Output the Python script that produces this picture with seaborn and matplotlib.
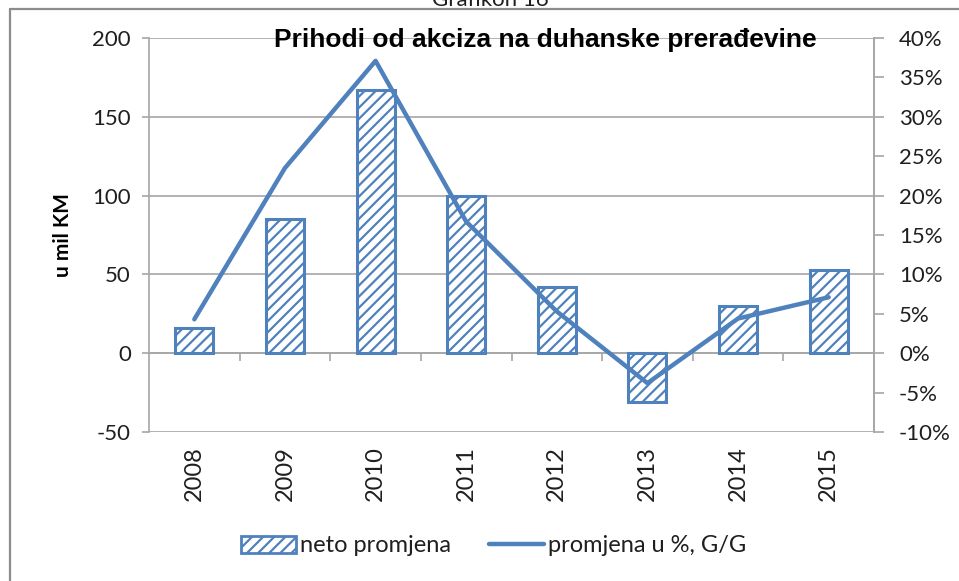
import matplotlib
matplotlib.use("Agg")
import matplotlib.pyplot as plt
import matplotlib.ticker as mticker
from matplotlib.lines import Line2D
from matplotlib.patches import Patch
import seaborn as sns
import pandas as pd
import numpy as np

years = ["2008", "2009", "2010", "2011", "2012", "2013", "2014", "2015"]
neto_promjena = [16, 85, 167, 100, 42, -31, 30, 53]
promjena_pct = [4.3, 23.5, 37.1, 16.7, 5.3, -3.8, 4.4, 7.1]
left_ticks = [-50, 0, 50, 100, 150, 200]
right_ticks = [-10, -5, 0, 5, 10, 15, 20, 25, 30, 35, 40]

BLUE = "#4F81BD"
GRID = "#A6A6A6"
TXT = "#1F1F1F"

sns.set_theme(style="white")
plt.rcParams["font.family"] = ["Lato", "DejaVu Sans"]
plt.rcParams["axes.unicode_minus"] = False
plt.rcParams["hatch.color"] = BLUE
plt.rcParams["hatch.linewidth"] = 1.6

df = pd.DataFrame({"year": years, "neto": neto_promjena, "pct": promjena_pct})

fig = plt.figure(figsize=(9.59, 5.81), dpi=100)
ax = fig.add_axes([149 / 959, 1 - 432 / 581, (874 - 149) / 959, (432 - 38) / 581])

sns.barplot(data=df, x="year", y="neto", ax=ax, color="white", width=0.42,
            edgecolor=BLUE, linewidth=2.2, hatch="///", saturation=1)
for p in ax.patches:
    p.set_hatch("///")
    p.set_edgecolor(BLUE)
    p.set_facecolor("white")
    p.set_zorder(3)

ax.set_ylim(-50, 200)
ax.set_xlim(-0.5, len(years) - 0.5)
ax.set_yticks(left_ticks)
ax.yaxis.grid(True, color=GRID, linewidth=1.2)
ax.set_axisbelow(True)
ax.set_xlabel("")
ax.set_ylabel("u mil KM", fontsize=15, fontweight="bold", color="black", labelpad=14)

ax.spines["top"].set_visible(False)
ax.spines["left"].set_color(GRID)
ax.spines["left"].set_linewidth(1.2)
ax.spines["right"].set_color(GRID)
ax.spines["right"].set_linewidth(1.2)
ax.spines["bottom"].set_position(("data", 0))
ax.spines["bottom"].set_color(GRID)
ax.spines["bottom"].set_linewidth(1.2)

ax.tick_params(axis="y", which="major", left=True, length=5, width=1.2, color=GRID,
               labelsize=16, labelcolor=TXT, pad=8)
ax.tick_params(axis="x", which="major", bottom=True, length=0, labelsize=17,
               labelcolor=TXT, pad=67, labelrotation=90)
ax.set_xticks(np.arange(0.5, len(years) - 1, 1.0), minor=True)
ax.tick_params(axis="x", which="minor", bottom=True, length=6, width=1.2,
               color=GRID, direction="out")

ax2 = ax.twinx()
sns.lineplot(data=df, x="year", y="pct", ax=ax2, color=BLUE, linewidth=3.2,
             sort=False, solid_capstyle="round", solid_joinstyle="round")
ax2.set_ylim(-10, 40)
ax2.set_yticks(right_ticks)
ax2.yaxis.set_major_formatter(mticker.FuncFormatter(lambda v, p: f"{int(v)}%"))
ax2.set_ylabel("")
ax2.set_xlabel("")
for s in ["top", "left", "bottom"]:
    ax2.spines[s].set_visible(False)
ax2.spines["right"].set_color(GRID)
ax2.spines["right"].set_linewidth(1.2)
ax2.tick_params(axis="y", right=True, length=7, width=1.2, color=GRID,
                labelsize=16, labelcolor=TXT, pad=11)
ax2.set_xlim(-0.5, len(years) - 0.5)
ax2.grid(False)

fig.text(545 / 959, 1 - 40 / 581, "Prihodi od akciza na duhanske prerađevine",
         family=["Liberation Sans", "DejaVu Sans"], fontweight="bold",
         fontsize=19, ha="center", va="center", color="black")

fig.text(490 / 959, 1 - 6 / 581, "Grafikon 16", fontsize=16, ha="center",
         va="baseline", color=TXT)

frame_color = "#8C8C8C"
fig.add_artist(Line2D([10 / 959, 10 / 959], [0, 1 - 9 / 581], transform=fig.transFigure,
                      color=frame_color, linewidth=1.6))
fig.add_artist(Line2D([10 / 959, 1], [1 - 9 / 581, 1 - 9 / 581], transform=fig.transFigure,
                      color=frame_color, linewidth=1.6))

handles = [Patch(facecolor="white", edgecolor=BLUE, hatch="///", linewidth=2),
           Line2D([0], [0], color=BLUE, linewidth=3.2)]
fig.legend(handles, ["neto promjena", "promjena u %, G/G"], loc="center",
           bbox_to_anchor=(494 / 959, 1 - 546 / 581), ncol=2, frameon=False,
           fontsize=17, handlelength=2.3, handletextpad=0.2, columnspacing=1.6,
           labelcolor=TXT)

fig.savefig("out.png", dpi=100)
